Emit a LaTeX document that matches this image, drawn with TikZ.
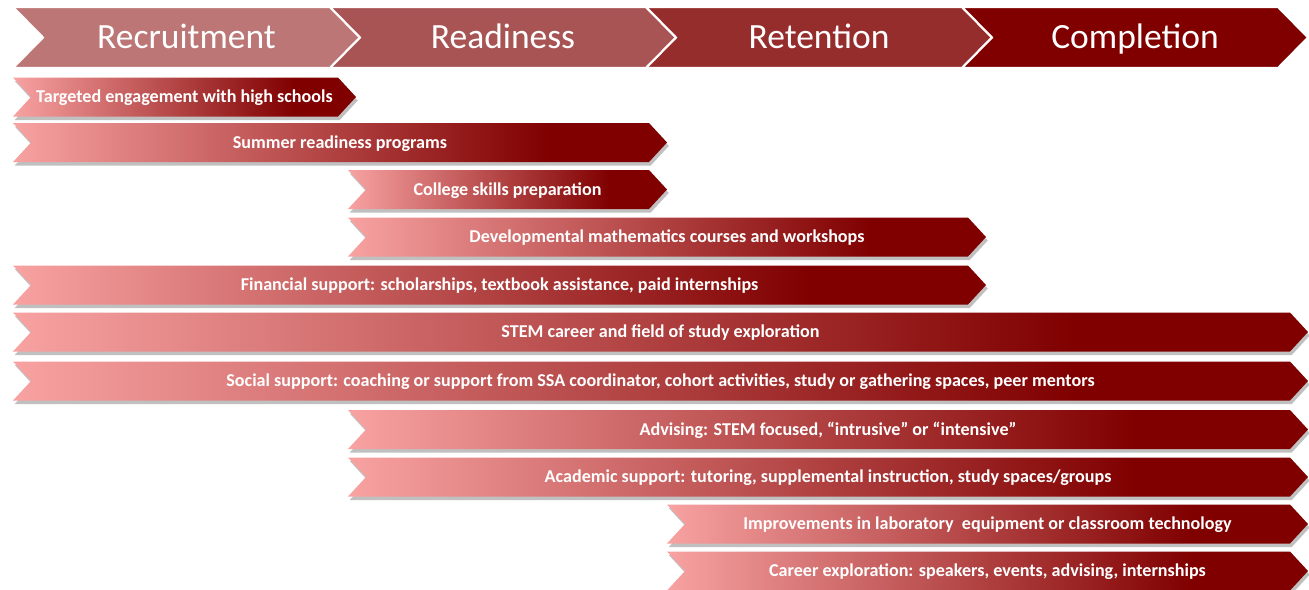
\documentclass[tikz,border=0pt]{standalone}
\usepackage{fontspec}
\setmainfont{Carlito}
\usetikzlibrary{shadows}

\definecolor{phaseA}{RGB}{188,118,118}
\definecolor{phaseB}{RGB}{168,84,84}
\definecolor{phaseC}{RGB}{150,45,45}
\definecolor{phaseD}{RGB}{128,0,0}
\definecolor{ribbonlight}{RGB}{248,162,162}
\definecolor{ribbondark}{RGB}{128,0,0}
\pgfdeclarehorizontalshading{ribbonshade}{100bp}{color(0bp)=(ribbonlight); color(25bp)=(ribbonlight); color(66bp)=(ribbondark); color(100bp)=(ribbondark)}

\tikzset{
  phase/.style={draw=white,line width=1.2pt},
  phasetext/.style={text=white,font=\fontsize{20.2}{22}\selectfont,
    text height=13pt,text depth=0pt},
  ribbon/.style={shading=ribbonshade,
    drop shadow={shadow xshift=1pt,shadow yshift=-2pt,opacity=0.45,fill=black!55}},
  ribbontext/.style={text=white,font=\fontsize{10.3}{12}\selectfont\bfseries,
    text height=6.6pt,text depth=0pt}
}

% #1 name, #2 left x, #3 right x, #4 colour, #5 text
\newcommand{\phasebox}[5]{%
  \fill[phase,fill=#4] (#2,7) -- (#3,7) -- (#3+30,37.5) -- (#3,68) -- (#2,68) -- (#2+30,37.5) -- cycle;
  \node[phasetext] (#1) at ({(#2+#3+30)/2},37.5) {#5};
}
% #1 name, #2 centre y, #3 left x, #4 tip x, #5 text
\newcommand{\ribbonbar}[5]{%
  \path[ribbon] (#3,#2-19.5) -- (#4-18,#2-19.5) -- (#4,#2) -- (#4-18,#2+19.5) -- (#3,#2+19.5) -- (#3+18,#2) -- cycle;
  \node[ribbontext] (#1) at ({(#3+#4)/2},#2) {#5};
}

\begin{document}
\begin{tikzpicture}[x=0.02cm,y=-0.02cm]
  \useasboundingbox (0,0) rectangle (1309,589);
  % phases
  \phasebox{recruit}{13}{330}{phaseA}{Recruitment}
  \phasebox{ready}{330}{646}{phaseB}{Readiness}
  \phasebox{retain}{646}{962}{phaseC}{Retention}
  \phasebox{complete}{962}{1278}{phaseD}{Completion}
  % activities
  \ribbonbar{engage}{97}{13}{356}{Targeted engagement with high schools}
  \ribbonbar{summer}{142.5}{13}{667}{Summer readiness programs}
  \ribbonbar{skills}{189.5}{348}{667}{College skills preparation}
  \ribbonbar{devmath}{237}{348}{986}{Developmental mathematics courses and workshops}
  \ribbonbar{finance}{285}{13}{986}{Financial support: scholarships, textbook assistance, paid internships}
  \ribbonbar{career}{332}{13}{1308}{STEM career and field of study exploration}
  \ribbonbar{social}{381}{13}{1308}{Social support: coaching or support from SSA coordinator, cohort activities, study or gathering spaces, peer mentors}
  \ribbonbar{advise}{429.5}{348}{1308}{Advising: STEM focused, “intrusive” or “intensive”}
  \ribbonbar{academic}{477}{348}{1308}{Academic support: tutoring, supplemental instruction, study spaces/groups}
  \ribbonbar{lab}{524}{667}{1308}{Improvements in laboratory\ \ equipment or classroom technology}
  \ribbonbar{explore}{571}{667}{1308}{Career exploration: speakers, events, advising, internships}
\end{tikzpicture}
\end{document}
